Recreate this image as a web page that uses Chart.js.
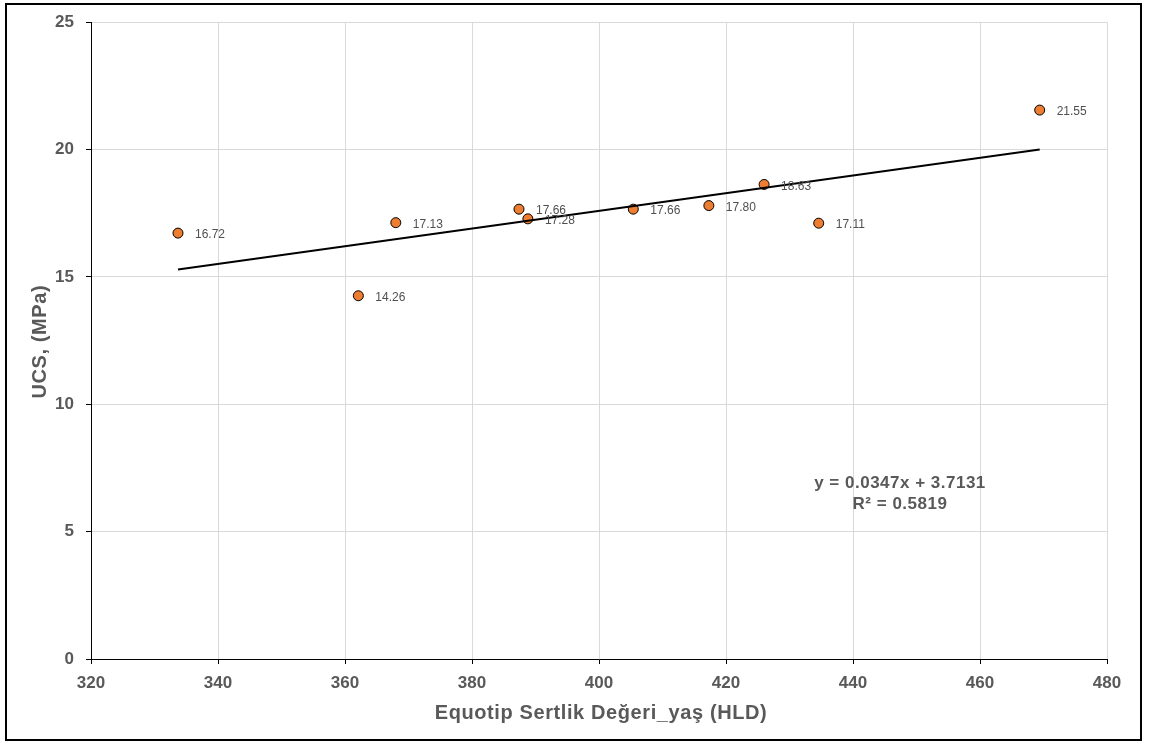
<!DOCTYPE html>
<html>
<head>
<meta charset="utf-8">
<script src="https://cdn.jsdelivr.net/npm/chart.js@4/dist/chart.umd.min.js"></script>
<style>
  html, body { margin: 0; padding: 0; background: #fff; }
  #wrap { width: 1149px; height: 743px; }
</style>
</head>
<body>
<div id="wrap"><canvas id="ucsChart" width="1149" height="743"></canvas></div>
<script>
// datos
var hardness = [333.7, 362.1, 368.0, 387.4, 388.8, 405.4, 417.3, 426.0, 434.6, 469.4];
var ucs = [16.72, 14.26, 17.13, 17.66, 17.28, 17.66, 17.80, 18.63, 17.11, 21.55];
var ucsLabels = ['16.72', '14.26', '17.13', '17.66', '17.28', '17.66', '17.80', '18.63', '17.11', '21.55'];

// linea de tendencia (extremos)
var trendX = [333.7, 469.4];
var trendY = [15.29, 20.00];
var equationLines = ['y = 0.0347x + 3.7131', 'R\u00b2 = 0.5819'];

var xTicks = [320, 340, 360, 380, 400, 420, 440, 460, 480];
var yTicks = [0, 5, 10, 15, 20, 25];

var xTitle = 'Equotip Sertlik Değeri_yaş (HLD)';
var yTitle = 'UCS, (MPa)';

var grey = '#595959';
var fontFam = '"Liberation Sans", Arial, sans-serif';

var points = hardness.map(function (h, i) { return { x: h, y: ucs[i] }; });
var trend = trendX.map(function (t, i) { return { x: t, y: trendY[i] }; });

// etiquetas de los puntos, titulos, ecuacion y marco
var extras = {
    id: 'extras',
    afterDatasetsDraw: function (chart) {
        var ctx = chart.ctx;
        var area = chart.chartArea;
        var meta = chart.getDatasetMeta(1);
        ctx.save();
        ctx.font = '12px ' + fontFam;
        ctx.fillStyle = '#505050';
        ctx.textAlign = 'left';
        ctx.textBaseline = 'middle';
        meta.data.forEach(function (p, i) {
            ctx.fillText(ucsLabels[i], p.x + 17, p.y + 2);
        });

        ctx.fillStyle = grey;
        ctx.textAlign = 'center';
        ctx.letterSpacing = '0.5px';
        ctx.font = 'bold 17px ' + fontFam;
        ctx.fillText(equationLines[0], 900, 483);
        ctx.fillText(equationLines[1], 900, 504);

        ctx.letterSpacing = '0.6px';
        ctx.font = 'bold 20px ' + fontFam;
        ctx.fillText(xTitle, (area.left + area.right) / 2 + 2, 713);

        ctx.save();
        ctx.translate(40, (area.top + area.bottom) / 2 + 1);
        ctx.rotate(-Math.PI / 2);
        ctx.fillText(yTitle, 0, 0);
        ctx.restore();

        ctx.letterSpacing = '0px';
        ctx.strokeStyle = '#000';
        ctx.lineWidth = 2;
        ctx.strokeRect(6, 4, 1135, 736);
        ctx.restore();
    }
};

var ctx = document.getElementById('ucsChart');

var chart = new Chart(ctx, {
    type: 'scatter',
    data: {
        datasets: [
            {
                type: 'line',
                data: trend,
                borderColor: '#000',
                borderWidth: 2,
                pointRadius: 0,
                fill: false
            },
            {
                data: points,
                backgroundColor: '#ED7D31',
                borderColor: '#000',
                borderWidth: 1,
                pointRadius: 5,
                pointHoverRadius: 5
            }
        ]
    },
    options: {
        responsive: false,
        animation: false,
        events: [],
        layout: { padding: { left: 0, top: 21, right: 42, bottom: 0 } },
        plugins: {
            legend: { display: false },
            tooltip: { enabled: false }
        },
        scales: {
            x: {
                type: 'linear',
                min: 320,
                max: 480,
                afterBuildTicks: function (s) { s.ticks = xTicks.map(function (v) { return { value: v }; }); },
                afterFit: function (s) { s.height = 84; },
                ticks: {
                    color: grey,
                    padding: 9,
                    font: { family: fontFam, size: 17, weight: 'bold' }
                },
                grid: { color: '#d9d9d9', tickColor: '#000', tickLength: 5 },
                border: { color: '#000', width: 1 }
            },
            y: {
                min: 0,
                max: 25,
                afterBuildTicks: function (s) { s.ticks = yTicks.map(function (v) { return { value: v }; }); },
                afterFit: function (s) { s.width = 91; },
                ticks: {
                    color: grey,
                    padding: 12,
                    font: { family: fontFam, size: 17, weight: 'bold' }
                },
                grid: { color: '#d9d9d9', tickColor: '#000', tickLength: 5 },
                border: { color: '#000', width: 1 }
            }
        }
    },
    plugins: [extras]
});
</script>
</body>
</html>
